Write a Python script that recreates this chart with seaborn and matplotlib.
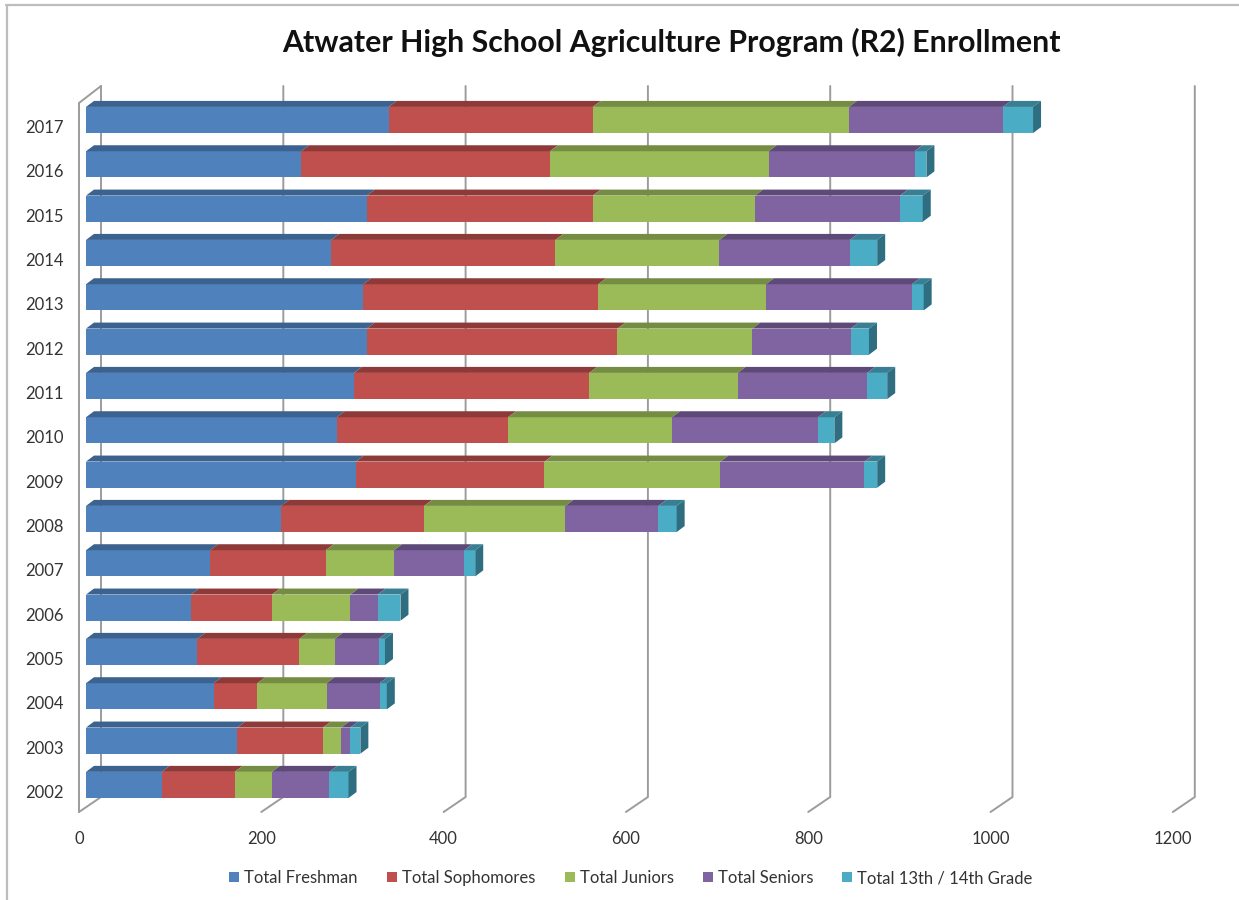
import numpy as np
import matplotlib
matplotlib.use("Agg")
import matplotlib.pyplot as plt
import seaborn as sns
from matplotlib.lines import Line2D
from matplotlib.patches import Patch, Polygon
from matplotlib.transforms import ScaledTranslation

# ==========================
# Data
# ==========================

years = ["2017", "2016", "2015", "2014", "2013", "2012", "2011", "2010",
         "2009", "2008", "2007", "2006", "2005", "2004", "2003", "2002"]

freshman = [332, 236, 308, 269, 304, 308, 294, 275, 296, 214, 136, 115, 122, 140, 166, 83]
sophomores = [224, 273, 248, 246, 258, 275, 258, 188, 207, 157, 127, 89, 112, 48, 94, 80]
juniors = [281, 240, 178, 180, 184, 148, 163, 180, 193, 155, 75, 86, 39, 76, 20, 41]
seniors = [169, 160, 159, 143, 160, 108, 142, 160, 158, 102, 77, 30, 48, 58, 10, 63]
grade_13_14 = [33, 13, 25, 30, 13, 20, 22, 18, 14, 20, 12, 25, 7, 8, 11, 21]

series_names = ["Total Freshman", "Total Sophomores", "Total Juniors",
                "Total Seniors", "Total 13th / 14th Grade"]
front_colors = ["#4F81BD", "#C0504D", "#9BBB59", "#8064A2", "#4BACC6"]
top_colors = ["#3C628F", "#8E3A38", "#748D43", "#5E4A78", "#387F93"]
side_color = "#2E6E80"

x_ticks = [0, 200, 400, 600, 800, 1000, 1200]

# ==========================
# Geometry (pixels of the 1239x900 figure)
# ==========================

PX_PER_UNIT = 0.9115
PX_PER_ROW = 44.33
BAR_ZERO_PX = 86
FLOOR_LEFT_PX = 79
ROW0_PX = 120
FLOOR_PX = 812
WALL_TOP_PX = 103
BAR_DEPTH = (8, 6)
WALL_DEPTH = (22, 15)

sns.set_theme(style="white")
plt.rcParams["font.family"] = ["Lato", "DejaVu Sans"]

fig = plt.figure(figsize=(12.39, 9), dpi=100)
axes_right_px = FLOOR_LEFT_PX + 1200 * PX_PER_UNIT
ax = fig.add_axes([
    FLOOR_LEFT_PX / 1239,
    1 - FLOOR_PX / 900,
    (axes_right_px - FLOOR_LEFT_PX) / 1239,
    (FLOOR_PX - WALL_TOP_PX) / 900,
])

# ==========================
# Stacked bars
# ==========================

stack = np.array([freshman, sophomores, juniors, seniors, grade_13_14], dtype=float)
cumulative = stack.cumsum(axis=0)

# longest stack first, so the shorter ones sit on top of it
for i in range(4, -1, -1):
    sns.barplot(x=cumulative[i], y=years, order=years, orient="h",
                color=front_colors[i], saturation=1, width=0.59,
                linewidth=0, zorder=3, ax=ax)

shift = (BAR_ZERO_PX - FLOOR_LEFT_PX) / PX_PER_UNIT
ax.set_xlim(-shift, 1200 - shift)
ax.set_ylim((FLOOR_PX - ROW0_PX) / PX_PER_ROW, (WALL_TOP_PX - ROW0_PX) / PX_PER_ROW)

dx = BAR_DEPTH[0] / PX_PER_UNIT
dy = BAR_DEPTH[1] / PX_PER_ROW
half = 0.59 / 2

# top and side faces of the fake 3D bars (the 2017 top pokes out of the axes)
for row in range(len(years)):
    start = 0
    for i in range(5):
        end = cumulative[i][row]
        ax.add_patch(Polygon(
            [(start, row - half), (end, row - half),
             (end + dx, row - half - dy), (start + dx, row - half - dy)],
            closed=True, facecolor=top_colors[i], edgecolor="none",
            zorder=3, clip_on=False))
        start = end
    ax.add_patch(Polygon(
        [(start, row - half), (start + dx, row - half - dy),
         (start + dx, row + half - dy), (start, row + half)],
        closed=True, facecolor=side_color, edgecolor="none",
        zorder=3, clip_on=False))

# ==========================
# Walls and gridlines
# ==========================

wx = WALL_DEPTH[0] / PX_PER_UNIT
wy = WALL_DEPTH[1] / PX_PER_ROW
y_floor = ax.get_ylim()[0]
y_top = ax.get_ylim()[1]
grid_style = dict(color="#9C9C9C", lw=1.4, zorder=1, clip_on=False,
                  solid_joinstyle="miter")

for t in x_ticks:
    x0 = t - shift
    ax.plot([x0, x0 + wx, x0 + wx], [y_floor, y_floor - wy, y_top - 17 / PX_PER_ROW],
            **grid_style)
ax.plot([-shift, -shift, -shift + wx], [y_floor, y_top, y_top - 17 / PX_PER_ROW],
        **grid_style)

# ==========================
# Axes and text
# ==========================

ax.set_xticks([t - shift for t in x_ticks], [str(t) for t in x_ticks])
ax.tick_params(axis="x", length=0, pad=14, labelsize=12, labelcolor="#333333")
ax.tick_params(axis="y", length=0, pad=11, labelsize=12, labelcolor="#333333")
ax.set_xlabel("")
ax.set_ylabel("")
ax.patch.set_alpha(0)
sns.despine(ax=ax, left=True, bottom=True)

# year labels sit a little below the bars in the original
label_drop = ScaledTranslation(0, -6.5 / 100, fig.dpi_scale_trans)
for label in ax.get_yticklabels():
    label.set_transform(label.get_transform() + label_drop)

fig.text(671 / 1239, 1 - 42 / 900,
         "Atwater High School Agriculture Program (R2) Enrollment",
         ha="center", va="center", fontsize=21.8, fontweight="bold", color="#111111")

handles = [Patch(facecolor=c, edgecolor="none") for c in front_colors]
fig.legend(handles, series_names, loc="center", ncol=5, frameon=False,
           bbox_to_anchor=(631 / 1239, 1 - 878 / 900), fontsize=12,
           labelcolor="#333333", handlelength=0.6, handleheight=0.6,
           handletextpad=0.3, columnspacing=1.75)

# chart frame
for xs, ys in [((7, 7), (5, 900)), ((6, 1239), (5, 5))]:
    fig.add_artist(Line2D([x / 1239 for x in xs], [1 - y / 900 for y in ys],
                          color="#BDBDBD", lw=1.6))

fig.savefig("out.png", dpi=100)
